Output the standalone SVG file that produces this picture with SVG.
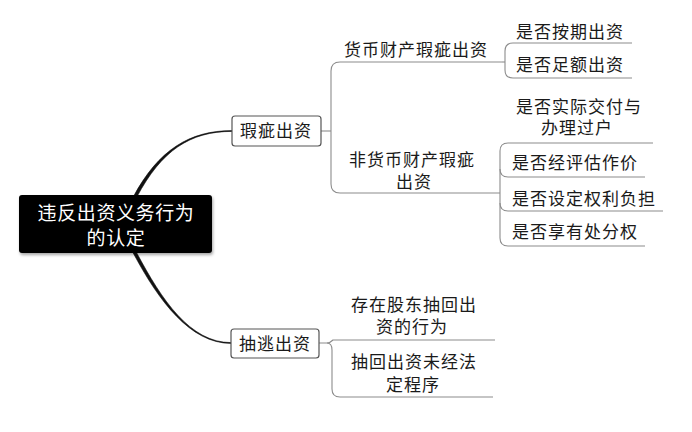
<svg xmlns="http://www.w3.org/2000/svg" width="692" height="432" viewBox="0 0 692 432">
<defs>
<filter id="sh" x="-10%" y="-20%" width="120%" height="150%">
<feDropShadow dx="1" dy="2" stdDeviation="1.5" flood-color="#000" flood-opacity="0.35"/>
</filter>
<style>
.t{font-family:"Liberation Sans","Noto Sans CJK SC",sans-serif;font-size:17px;fill:#1a1a1a;letter-spacing:1px}
.r{font-family:"Liberation Sans","Noto Sans CJK SC",sans-serif;font-size:19px;fill:#fff;letter-spacing:0.6px;text-anchor:middle}
.b{fill:#fff;stroke:#555;stroke-width:1.2}
.g{fill:none;stroke:#8c8c8c;stroke-width:1.1}
.k{fill:#111;stroke:#111;stroke-width:0.6;stroke-linejoin:round}
</style>
</defs>
<rect width="692" height="432" fill="#fff"/>
<g id="connectors">
<path class="k" d="M133.2,197 C158.5,149.5 190,130.6 232,130.6 L232,131.4 C190,131.4 161.5,150.5 136.8,197 Z"/>
<path class="k" d="M133.2,253 C158.5,300.5 190,343.4 231,343.4 L231,342.6 C190,342.6 161.5,299.5 136.8,253 Z"/>
<path class="g" d="M321,131 H331"/>
<path class="g" d="M502,62 H340 Q331,62 331,71 V184 Q331,193 340,193 H500"/>
<path class="g" d="M502,62 H505"/>
<path class="g" d="M632,43 H513 Q505,43 505,51 V70 Q505,78 513,78 H632"/>
<path class="g" d="M653,143 H508 Q500,143 500,151 V238 Q500,246 508,246 H645"/>
<path class="g" d="M500,169 Q500,177 508,177 H645"/>
<path class="g" d="M500,203 Q500,211 508,211 H663"/>
<path class="g" d="M319,343 H327 Q330,343 333,340 H495"/>
<path class="g" d="M327,343 Q332,343 332,350 V389 Q332,397 340,397 H493"/>
</g>
<g id="root">
<rect x="19" y="195" width="193" height="58" rx="3" fill="#000" filter="url(#sh)"/>
<text class="r" x="116" y="220">违反出资义务行为<tspan x="116" dy="25">的认定</tspan></text>
</g>
<g id="n-xiaci">
<rect class="b" x="232" y="116" width="89" height="30" rx="3"/>
<text class="t" x="240" y="137">瑕疵出资</text>
</g>
<g id="n-chouto">
<rect class="b" x="231" y="329" width="88" height="29" rx="3"/>
<text class="t" x="239" y="350">抽逃出资</text>
</g>
<g id="n-huobi">
<text class="t" x="344" y="56">货币财产瑕疵出资</text>
</g>
<g id="n-anqi">
<text class="t" x="516" y="38">是否按期出资</text>
</g>
<g id="n-zue">
<text class="t" x="516" y="71">是否足额出资</text>
</g>
<g id="n-feihuobi">
<text class="t" x="349" y="166">非货币财产瑕疵<tspan x="396" dy="22">出资</tspan></text>
</g>
<g id="n-jiaofu">
<text class="t" x="516" y="113">是否实际交付与<tspan x="541" dy="21">办理过户</tspan></text>
</g>
<g id="n-pinggu">
<text class="t" x="512" y="169">是否经评估作价</text>
</g>
<g id="n-fudan">
<text class="t" x="512" y="205">是否设定权利负担</text>
</g>
<g id="n-chufen">
<text class="t" x="512" y="238">是否享有处分权</text>
</g>
<g id="n-cunzai">
<text class="t" x="351" y="311">存在股东抽回出<tspan x="376" dy="22">资的行为</tspan></text>
</g>
<g id="n-weijing">
<text class="t" x="351" y="368">抽回出资未经法<tspan x="386" dy="23">定程序</tspan></text>
</g>
</svg>
